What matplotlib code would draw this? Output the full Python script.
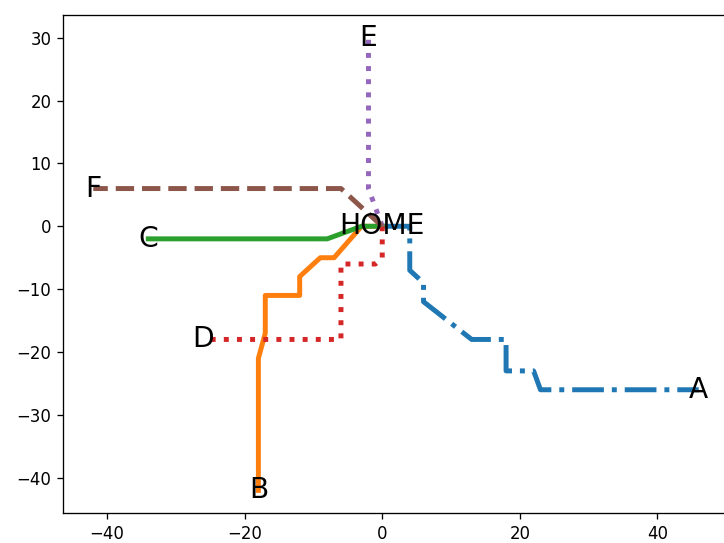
import matplotlib
matplotlib.use("Agg")
import matplotlib.pyplot as plt

names = ["A", "B", "C", "D", "E", "F"]
path_x = {
    "A": [0, 4, 4, 6, 6, 13, 18, 18, 22, 23, 46],
    "B": [0, -3, -7, -9, -12, -12, -17, -17, -18, -18],
    "C": [0, -3, -8, -34],
    "D": [0, 0, -1, -6, -6, -26],
    "E": [0, -2, -2],
    "F": [0, -6, -42],
}
path_y = {
    "A": [0, 0, -7, -9, -12, -18, -18, -23, -23, -26, -26],
    "B": [0, 0, -5, -5, -8, -11, -11, -17, -21, -42],
    "C": [0, 0, -2, -2],
    "D": [0, -5, -6, -6, -18, -18],
    "E": [0, 6, 30],
    "F": [0, 6, 6],
}
styles = {"A": "-.", "B": "-", "C": "-", "D": ":", "E": ":", "F": "--"}
home_label = "HOME"

DPI = 119
fig = plt.figure(figsize=(724 / DPI, 543 / DPI), dpi=DPI)
ax = fig.add_axes([63 / 724, 30 / 543, 666 / 724, 498 / 543])

for i, n in enumerate(names):
    ax.plot(path_x[n], path_y[n], linestyle=styles[n], linewidth=3, color=f"C{i}")

for n in names:
    ax.text(path_x[n][-1], path_y[n][-1], n, ha="center", va="center", fontsize=17)
ax.text(0, 0, home_label, ha="center", va="center", fontsize=17)

fig.savefig("out.png", dpi=DPI)
